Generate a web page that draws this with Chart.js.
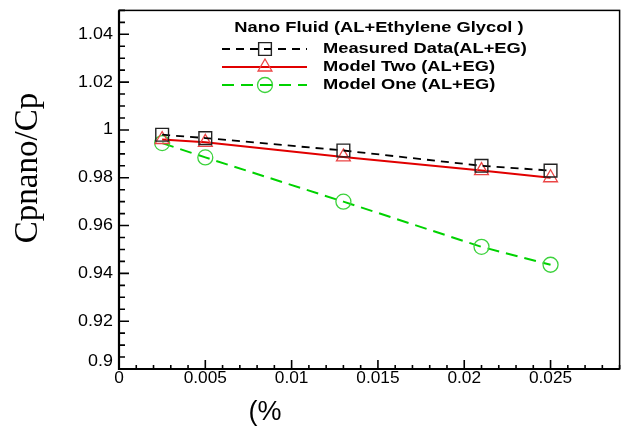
<!DOCTYPE html>
<html><head><meta charset="utf-8">
<script src="https://cdn.jsdelivr.net/npm/chart.js@4.4.0/dist/chart.umd.min.js"></script>
<style>html,body{margin:0;padding:0;background:#fff;} #wrap{width:630px;height:430px;position:relative;}</style>
</head><body><div id="wrap"><canvas id="c" width="630" height="430"></canvas></div>
<script>
// ---- data ----
const xValues = [0.0025, 0.005, 0.013, 0.021, 0.025];
const measuredData = [0.998, 0.9966, 0.9914, 0.985, 0.983];
const modelTwo = [0.996, 0.9948, 0.9887, 0.983, 0.980];
const modelOne = [0.9945, 0.9885, 0.9700, 0.9511, 0.9436];
const xTickValues = [0, 0.005, 0.01, 0.015, 0.02, 0.025];
const xTickLabels = ['0', '0.005', '0.01', '0.015', '0.02', '0.025'];
const yTickValues = [0.9, 0.92, 0.94, 0.96, 0.98, 1, 1.02, 1.04];
const yTickLabels = ['0.9', '0.92', '0.94', '0.96', '0.98', '1', '1.02', '1.04'];
const seriesNames = ['Measured Data(AL+EG)', 'Model Two (AL+EG)', 'Model One (AL+EG)'];
const legendTitle = 'Nano Fluid (AL+Ethylene Glycol )';
const xTitle = '(%';
const yTitle = 'Cpnano/Cp';
const xMinorStep = 0.001;
const yMinorStep = 0.005;

const pts = (ys) => xValues.map((x, i) => ({x: x, y: ys[i]}));

const SANS = '"Liberation Sans", Arial, sans-serif';
const SERIF = '"Liberation Serif", "Times New Roman", serif';

const datasets = [
  {label: seriesNames[0], data: pts(measuredData), borderColor: '#000', borderWidth: 1.8, borderDash: [8, 6],
   pointStyle: 'rect', pointRadius: 9, pointBorderColor: '#222', pointBorderWidth: 1.4, pointBackgroundColor: 'rgba(0,0,0,0)'},
  {label: seriesNames[1], data: pts(modelTwo), borderColor: 'rgb(225,0,0)', borderWidth: 2, borderDash: [],
   pointStyle: 'triangle', pointRadius: 8, pointBorderColor: 'rgb(235,70,70)', pointBorderWidth: 1.3, pointBackgroundColor: 'rgba(0,0,0,0)'},
  {label: seriesNames[2], data: pts(modelOne), borderColor: 'rgb(0,210,0)', borderWidth: 2, borderDash: [12, 7],
   pointStyle: 'circle', pointRadius: 7.5, pointBorderColor: 'rgb(60,210,60)', pointBorderWidth: 1.3, pointBackgroundColor: 'rgba(0,0,0,0)'}
];

function drawMarker(ctx, style, r, x, y) {
  ctx.beginPath();
  if (style === 'rect') {
    const s = Math.SQRT1_2 * r;
    ctx.rect(x - s, y - s, 2 * s, 2 * s);
  } else if (style === 'triangle') {
    ctx.moveTo(x, y - r);
    ctx.lineTo(x + r * Math.sqrt(3) / 2, y + r / 2);
    ctx.lineTo(x - r * Math.sqrt(3) / 2, y + r / 2);
    ctx.closePath();
  } else {
    ctx.arc(x, y, r, 0, Math.PI * 2);
  }
  ctx.stroke();
}

function stretchedText(ctx, text, x, y, sx, align) {
  ctx.save();
  ctx.translate(x, y);
  ctx.scale(sx, 1);
  ctx.textAlign = align;
  ctx.fillText(text, 0, 0);
  ctx.restore();
}

const decor = {
  id: 'decor',
  afterDraw(chart) {
    const ctx = chart.ctx;
    const a = chart.chartArea;
    const xs = chart.scales.x, ys = chart.scales.y;
    ctx.save();
    // frame
    ctx.strokeStyle = '#000';
    ctx.lineWidth = 1.5;
    ctx.strokeRect(a.left, a.top, a.right - a.left, a.bottom - a.top);
    ctx.lineWidth = 2.2;
    ctx.beginPath();
    ctx.moveTo(a.left, a.top); ctx.lineTo(a.left, a.bottom); ctx.lineTo(a.right, a.bottom);
    ctx.stroke();
    // ticks (inward)
    ctx.lineWidth = 1.6;
    ctx.beginPath();
    for (let i = 0; ; i++) {
      const v = +(ys.min + i * yMinorStep).toFixed(6);
      if (v > ys.max + 1e-9) break;
      const major = yTickValues.some(t => Math.abs(t - v) < 1e-9);
      const p = ys.getPixelForValue(v);
      ctx.moveTo(a.left, p); ctx.lineTo(a.left + (major ? 10 : 6), p);
    }
    for (let i = 0; ; i++) {
      const v = +(xs.min + i * xMinorStep).toFixed(6);
      if (v > xs.max + 1e-9) break;
      const major = xTickValues.some(t => Math.abs(t - v) < 1e-9);
      const p = xs.getPixelForValue(v);
      ctx.moveTo(p, a.bottom); ctx.lineTo(p, a.bottom - (major ? 9 : 4));
    }
    ctx.stroke();
    // tick labels
    ctx.fillStyle = '#000';
    ctx.font = '16px ' + SANS;
    ctx.textBaseline = 'middle';
    yTickValues.forEach((v, i) => {
      let p = ys.getPixelForValue(v);
      if (i === 0) p -= 7;
      stretchedText(ctx, yTickLabels[i], a.left - 6, p, 1.12, 'right');
    });
    xTickValues.forEach((v, i) => {
      const p = xs.getPixelForValue(v);
      stretchedText(ctx, xTickLabels[i], p, a.bottom + 10, 1.08, 'center');
    });
    // axis titles
    ctx.font = '33px ' + SERIF;
    ctx.save();
    ctx.translate(37, 168);
    ctx.rotate(-Math.PI / 2);
    ctx.textAlign = 'center';
    ctx.textBaseline = 'alphabetic';
    ctx.fillText(yTitle, 0, 0);
    ctx.restore();
    ctx.font = '27px ' + SANS;
    ctx.textAlign = 'center';
    ctx.textBaseline = 'middle';
    ctx.fillText(xTitle, 265, 413);
    // legend
    ctx.font = 'bold 15px ' + SANS;
    ctx.textBaseline = 'middle';
    stretchedText(ctx, legendTitle, 379, 28, 1.22, 'center');
    const rows = [49, 67, 85];
    chart.data.datasets.forEach((ds, i) => {
      const y = rows[i];
      ctx.save();
      ctx.strokeStyle = ds.borderColor;
      ctx.lineWidth = ds.borderWidth;
      ctx.setLineDash(ds.borderDash || []);
      ctx.beginPath(); ctx.moveTo(222, y); ctx.lineTo(307, y); ctx.stroke();
      ctx.setLineDash([]);
      ctx.strokeStyle = ds.pointBorderColor;
      ctx.lineWidth = ds.pointBorderWidth;
      drawMarker(ctx, ds.pointStyle, ds.pointRadius, 265, y);
      ctx.restore();
      ctx.fillStyle = '#000';
      ctx.font = 'bold 15px ' + SANS;
      ctx.textBaseline = 'middle';
      stretchedText(ctx, ds.label, 323, y, 1.22, 'left');
    });
    ctx.restore();
  }
};

new Chart(document.getElementById('c'), {
  type: 'line',
  data: {datasets: datasets},
  plugins: [decor],
  options: {
    responsive: false,
    animation: false,
    devicePixelRatio: 1,
    layout: {padding: {top: 10, right: 7, left: 0, bottom: 0}},
    plugins: {legend: {display: false}, tooltip: {enabled: false}, title: {display: false}},
    scales: {
      x: {
        type: 'linear', min: 0, max: 0.029,
        grid: {display: false, drawTicks: false},
        border: {display: false},
        afterFit: (s) => { s.height = 61; },
        afterBuildTicks: (s) => { s.ticks = xTickValues.map(v => ({value: v})); },
        ticks: {display: false}
      },
      y: {
        type: 'linear', min: 0.9, max: 1.05,
        grid: {display: false, drawTicks: false},
        border: {display: false},
        afterFit: (s) => { s.width = 119; },
        afterBuildTicks: (s) => { s.ticks = yTickValues.map(v => ({value: v})); },
        ticks: {display: false}
      }
    }
  }
});
</script>
</body></html>
